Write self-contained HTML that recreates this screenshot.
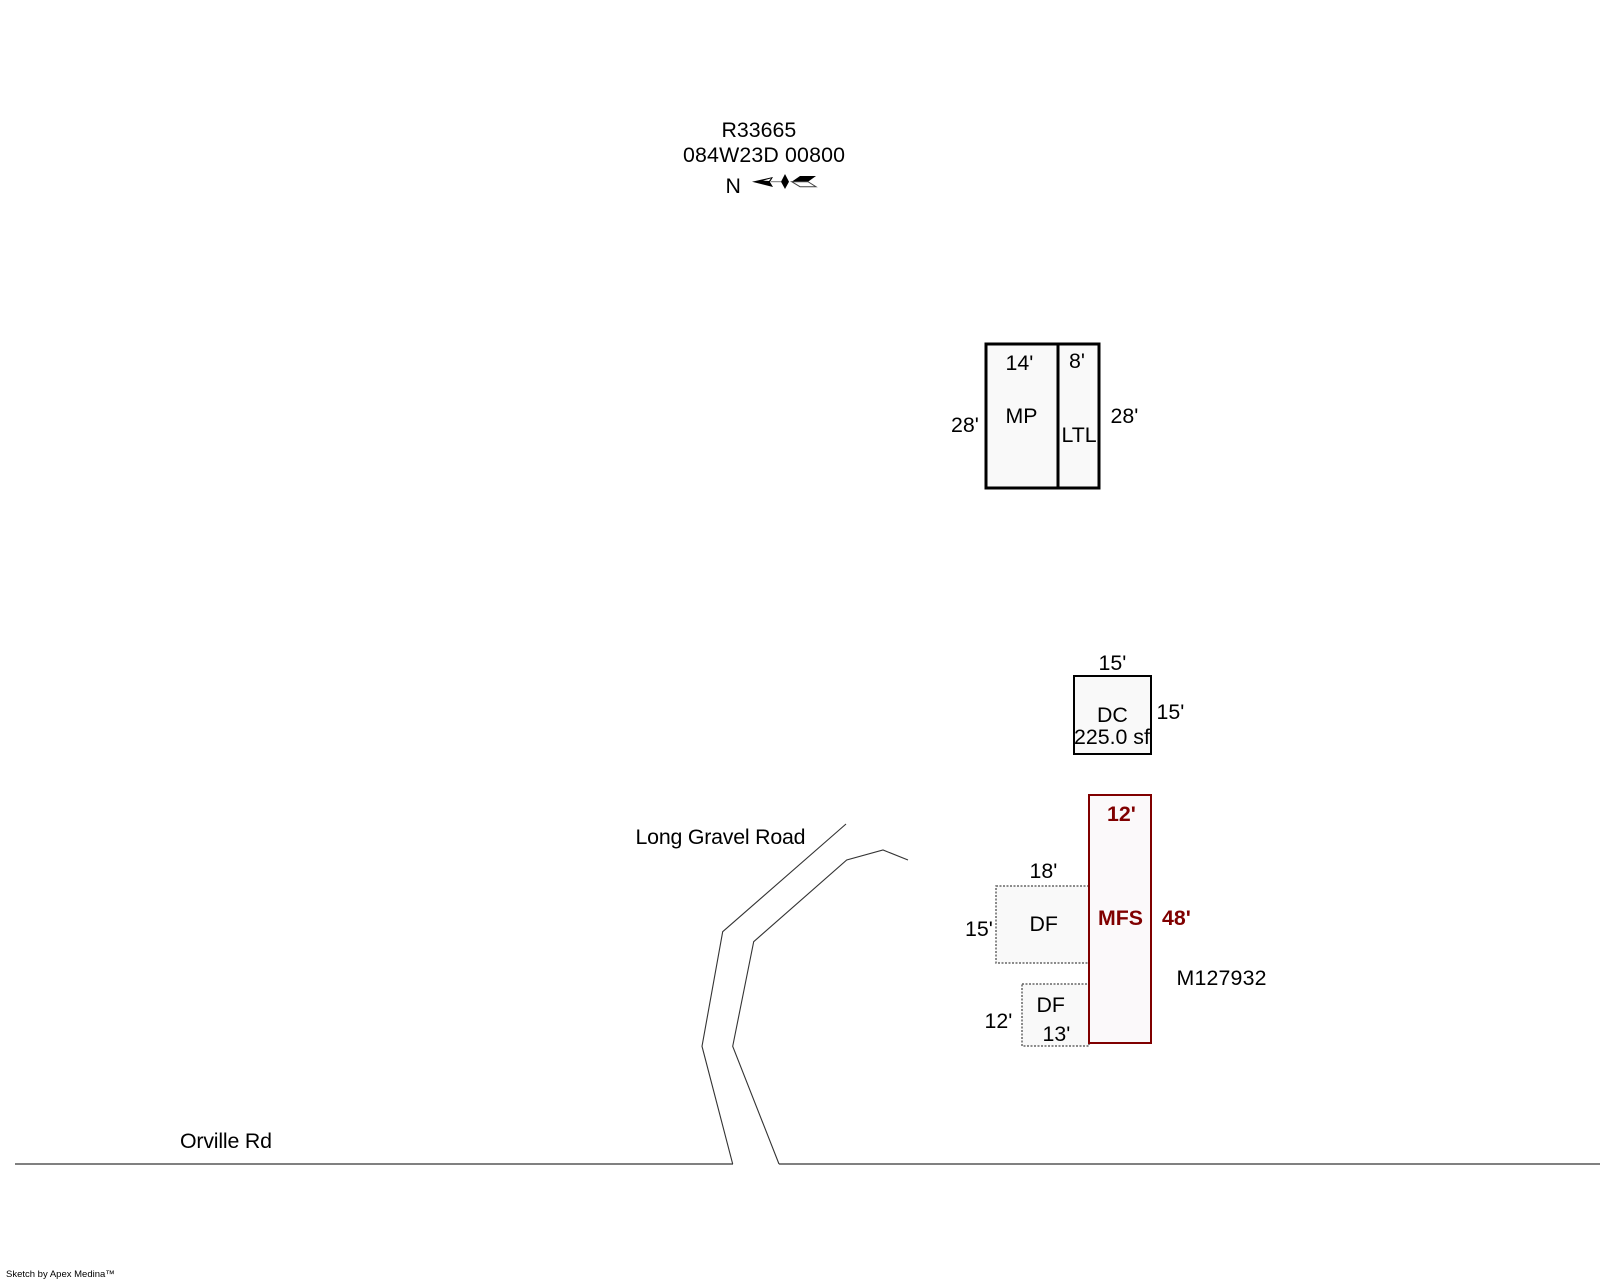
<!DOCTYPE html>
<html><head><meta charset="utf-8"><style>
html,body{margin:0;padding:0;background:#fff;width:1600px;height:1280px;overflow:hidden}
svg{display:block}
text{font-family:"Liberation Sans",Arial,sans-serif;font-size:21.33px;fill:#000}
.r{fill:#800000;font-weight:bold}
</style></head><body>
<svg width="1600" height="1280" viewBox="0 0 1600 1280" xmlns="http://www.w3.org/2000/svg">
<rect width="1600" height="1280" fill="#fff"/>
<g fill="none" stroke="#808080" stroke-width="2">
<path d="M15 1164H733M779 1164H1600"/>
</g>
<g fill="none" stroke="#333" stroke-width="1.1">
<path d="M846 824L722.7 931.700L702 1046.300L732.700 1164"/>
<path d="M908 860L883 850L846.700 860L753.700 941.700L732.700 1046.300L779 1164"/>
</g>
<rect x="986" y="344" width="72" height="144" fill="#f9f9f9" stroke="#000" stroke-width="3"/>
<rect x="1058" y="344" width="41" height="144" fill="#f9f9f9" stroke="#000" stroke-width="3"/>
<rect x="1074" y="676" width="77" height="78" fill="#f9f9f9" stroke="#000" stroke-width="2"/>
<rect x="996" y="886" width="93" height="77" fill="#f9f9f9" stroke="#666" stroke-width="1.500" stroke-dasharray="2 1.500"/>
<rect x="1022" y="984" width="67" height="62" fill="#f9f9f9" stroke="#666" stroke-width="1.500" stroke-dasharray="2 1.500"/>
<rect x="1089" y="795" width="62" height="248" fill="#fbf9fa" stroke="#800000" stroke-width="2"/>
<g>
<path d="M752 181.700L773 177L770 182L773 187Z" fill="#000"/>
<path d="M763 180.600L771 178.400L769 181Z" fill="#fff"/>
<path d="M771 181.700H781" stroke="#777" stroke-width="1" fill="none"/>
<path d="M781 181.700L785 174L789 181.700L785 189Z" fill="#000"/>
<path d="M791.700 181.700L800 176H816L808 181.700Z" fill="#000"/>
<path d="M791.700 181.700L800 186.700H816L808 181.700Z" fill="#fff" stroke="#444" stroke-width="1"/>
</g>
<text x="721.500" y="137">R33665</text>
<text x="683" y="162" textLength="162">084W23D 00800</text>
<text x="725.500" y="193">N</text>
<text x="1005.500" y="370">14'</text>
<text x="1069" y="368">8'</text>
<text x="1005.500" y="423">MP</text>
<text x="1061.500" y="442">LTL</text>
<text x="951" y="432">28'</text>
<text x="1110.500" y="423">28'</text>
<text x="1098.500" y="670">15'</text>
<text x="1156.500" y="719">15'</text>
<text x="1097" y="722">DC</text>
<text x="1074" y="744">225.0 sf</text>
<text class="r" x="1107" y="821">12'</text>
<text class="r" x="1098" y="925">MFS</text>
<text class="r" x="1162" y="925">48'</text>
<text x="1029.500" y="878">18'</text>
<text x="1029.500" y="931">DF</text>
<text x="965" y="936">15'</text>
<text x="1176.500" y="985" textLength="90">M127932</text>
<text x="1036.500" y="1012">DF</text>
<text x="984.500" y="1028">12'</text>
<text x="1042.500" y="1041">13'</text>
<text x="635.500" y="844" textLength="170">Long Gravel Road</text>
<text x="180" y="1148" textLength="92">Orville Rd</text>
<text x="6" y="1277" style="font-size:9.500px">Sketch by Apex Medina™</text>
</svg>
</body></html>
